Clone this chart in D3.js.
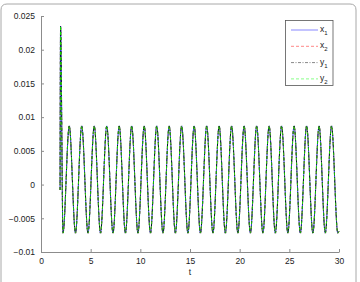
<!DOCTYPE html>
<html><head><meta charset="utf-8">
<script src="https://cdn.jsdelivr.net/npm/d3@7"></script>
<style>body{margin:0;background:#fff}svg{display:block}text{font-family:"Liberation Sans",Arial,sans-serif}</style>
</head><body><svg id="c" width="360" height="282"></svg>
<script>
const tVals = [1.92,1.97,2.215,2.845,3.47,4.10,4.73,5.36,5.99,6.62,7.25,7.875,8.50,9.13,9.76,10.39,11.02,11.65,12.28,12.905,13.53,14.16,14.79,15.42,16.05,16.68,17.31,17.935,18.56,19.19,19.82,20.45,21.08,21.71,22.34,22.965,23.59,24.22,24.85,25.48,26.11,26.74,27.37,27.995,28.62,29.25,29.88,30];
const x1 = [-0.0008,0.0235,-0.0072,0.0087,-0.0072,0.0087,-0.0072,0.0087,-0.0072,0.0087,-0.0072,0.0087,-0.0072,0.0087,-0.0072,0.0087,-0.0072,0.0087,-0.0072,0.0087,-0.0072,0.0087,-0.0072,0.0087,-0.0072,0.0087,-0.0072,0.0087,-0.0072,0.0087,-0.0072,0.0087,-0.0072,0.0087,-0.0072,0.0087,-0.0072,0.0087,-0.0072,0.0087,-0.0072,0.0087,-0.0072,0.0087,-0.0072,0.0087,-0.0072,-0.0069];
const x2 = [-0.0008,0.0235,-0.0072,0.0087,-0.0072,0.0087,-0.0072,0.0087,-0.0072,0.0087,-0.0072,0.0087,-0.0072,0.0087,-0.0072,0.0087,-0.0072,0.0087,-0.0072,0.0087,-0.0072,0.0087,-0.0072,0.0087,-0.0072,0.0087,-0.0072,0.0087,-0.0072,0.0087,-0.0072,0.0087,-0.0072,0.0087,-0.0072,0.0087,-0.0072,0.0087,-0.0072,0.0087,-0.0072,0.0087,-0.0072,0.0087,-0.0072,0.0087,-0.0072,-0.0069];
const y1 = [-0.0008,0.0235,-0.0072,0.0087,-0.0072,0.0087,-0.0072,0.0087,-0.0072,0.0087,-0.0072,0.0087,-0.0072,0.0087,-0.0072,0.0087,-0.0072,0.0087,-0.0072,0.0087,-0.0072,0.0087,-0.0072,0.0087,-0.0072,0.0087,-0.0072,0.0087,-0.0072,0.0087,-0.0072,0.0087,-0.0072,0.0087,-0.0072,0.0087,-0.0072,0.0087,-0.0072,0.0087,-0.0072,0.0087,-0.0072,0.0087,-0.0072,0.0087,-0.0072,-0.0069];
const y2 = [-0.0008,0.0235,-0.0072,0.0087,-0.0072,0.0087,-0.0072,0.0087,-0.0072,0.0087,-0.0072,0.0087,-0.0072,0.0087,-0.0072,0.0087,-0.0072,0.0087,-0.0072,0.0087,-0.0072,0.0087,-0.0072,0.0087,-0.0072,0.0087,-0.0072,0.0087,-0.0072,0.0087,-0.0072,0.0087,-0.0072,0.0087,-0.0072,0.0087,-0.0072,0.0087,-0.0072,0.0087,-0.0072,0.0087,-0.0072,0.0087,-0.0072,0.0087,-0.0072,-0.0069];
const xTicks = [0,5,10,15,20,25,30];
const yTicks = [-0.01,-0.005,0,0.005,0.01,0.015,0.02,0.025];
const yTickLabels = ["\u22120.01","\u22120.005","0","0.005","0.01","0.015","0.02","0.025"];
const seriesNames = ["x1","x2","y1","y2"];

const series = [
  {name:"x", sub:"1", vals:x1, color:"#0000ff", dash:null},
  {name:"x", sub:"2", vals:x2, color:"#ff0000", dash:"3,2"},
  {name:"y", sub:"1", vals:y1, color:"#000000", dash:"3,1.5,1,1.5"},
  {name:"y", sub:"2", vals:y2, color:"#00ff00", dash:"3,2"}
];

const svg = d3.select("#c");
svg.append("path")
  .attr("d","M1,300 L1,10 Q1,4 7,4 L350,4 Q356,4 356,10 L356,300")
  .attr("fill","none").attr("stroke","#a8a8a8").attr("stroke-width",1);

const x = d3.scaleLinear().domain([0,30]).range([41,339]);
const y = d3.scaleLinear().domain([-0.01,0.025]).range([252,16]);

const ax = svg.append("g").attr("transform","translate(0,252)")
  .call(d3.axisBottom(x).tickValues(xTicks).tickSizeInner(-3).tickSizeOuter(0).tickPadding(6));
const ay = svg.append("g").attr("transform","translate(41,0)")
  .call(d3.axisLeft(y).tickValues(yTicks).tickFormat((d,i)=>yTickLabels[i]).tickSizeInner(-3).tickSizeOuter(0).tickPadding(6));
[ax,ay].forEach(g=>{
  g.select(".domain").attr("stroke","#8c8c8c");
  g.selectAll(".tick line").attr("stroke","#8c8c8c");
  g.selectAll(".tick text").attr("fill","#222").attr("font-size",8.5);
});

svg.append("text").attr("x",190).attr("y",275).attr("text-anchor","middle")
  .attr("font-size",8.5).attr("fill","#222").text("t");

const line = d3.line().x((d,i)=>x(tVals[i])).y(d=>y(d)).curve(d3.curveMonotoneX);
series.forEach(s=>{
  svg.append("path").attr("d",line(s.vals)).attr("fill","none")
    .attr("stroke",s.color).attr("stroke-width",0.8)
    .attr("stroke-dasharray",s.dash);
});

// legend
const lg = svg.append("g");
lg.append("rect").attr("x",285.5).attr("y",20.5).attr("width",47.5).attr("height",65)
  .attr("fill","#fff").attr("stroke","#555").attr("stroke-width",0.8);
series.forEach((s,i)=>{
  const yy = 30 + i*16.3;
  lg.append("line").attr("x1",291).attr("x2",318).attr("y1",yy).attr("y2",yy)
    .attr("stroke",s.color).attr("stroke-width",0.8).attr("stroke-opacity",0.6)
    .attr("stroke-dasharray",s.dash);
  const t = lg.append("text").attr("x",320).attr("y",yy+2).attr("font-size",8.5).attr("fill","#222");
  t.append("tspan").text(s.name);
  t.append("tspan").attr("font-size",6).attr("dy",3).text(s.sub);
});
</script></body></html>
